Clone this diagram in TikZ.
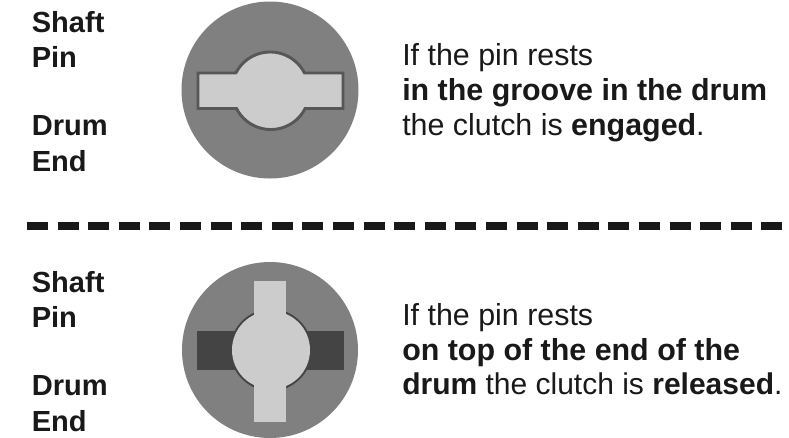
\documentclass[tikz,border=0pt]{standalone}
\usepackage{fontspec}
\setmainfont{Liberation Sans}
\definecolor{drumgray}{HTML}{808080}
\definecolor{shaftgray}{HTML}{CCCCCC}
\definecolor{groovegray}{HTML}{444444}
\tikzset{
  lbl/.style={anchor=base west,inner sep=0pt,font=\fontsize{21.8}{26}\selectfont\bfseries,text=black!90},
  txt/.style={anchor=base west,inner sep=0pt,font=\fontsize{22.8}{27}\selectfont,text=black!90}
}
\begin{document}
\begin{tikzpicture}[x=0.75pt,y=-0.75pt]
\useasboundingbox (0,0) rectangle (789,437);
% engaged
\fill[drumgray] (270,90) circle (88.5);
\draw[fill=shaftgray,draw=groovegray!90,line width=2.2pt]
  (236.5,73) -- (198,73) -- (198,108.5) -- (236.5,108.5)
  arc[start angle=153,end angle=27,radius=38.5] -- (343,108.5) -- (343,73) -- (304.5,73)
  arc[start angle=-27,end angle=-153,radius=38.5] -- cycle;
% divider
\draw[black!90,line width=6pt,dash pattern=on 15.75pt off 7.2pt] (27,225.7) -- (783,225.7);
% released
\fill[drumgray] (270,350) circle (88);
\fill[groovegray] (197,331) rectangle (344,370);
\fill[groovegray] (271,350) circle (41);
\fill[shaftgray] (271,350) circle (39);
\fill[shaftgray] (254,281) rectangle (286,422);
% labels
\node[lbl] (shafta) at (31.5,32) {Shaft};
\node[lbl] (pina) at (31.5,67) {Pin};
\node[lbl] (druma) at (31.5,135) {Drum};
\node[lbl] (enda) at (31.5,171) {End};
\node[lbl] (shaftb) at (31.5,292) {Shaft};
\node[lbl] (pinb) at (31.5,327) {Pin};
\node[lbl] (drumb) at (31.5,395) {Drum};
\node[lbl] (endb) at (31.5,431) {End};
\node[txt] (linea) at (402,65) {If the pin rests};
\node[txt] (lineb) at (402,100) {\bfseries in the groove in the drum};
\node[txt] (linec) at (402,135) {the clutch is \textbf{engaged}.};
\node[txt] (lined) at (402,325) {If the pin rests};
\node[txt] (linee) at (402,360) {\bfseries on top of the end of the};
\node[txt,font=\fontsize{22.5}{27}\selectfont] (linef) at (402,394.5) {\textbf{drum} the clutch is \textbf{released}.};
\end{tikzpicture}
\end{document}
